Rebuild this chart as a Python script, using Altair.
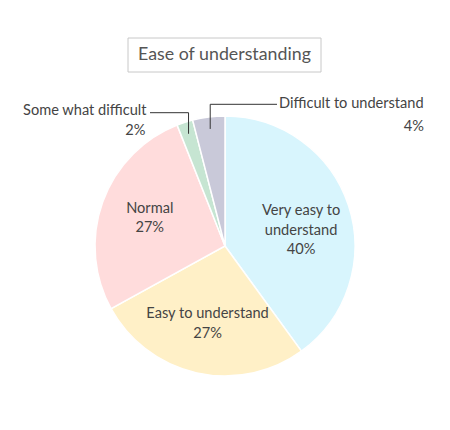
import altair as alt
import numpy as np
import pandas as pd

# ---- data ----
categories = ["Very easy to understand", "Easy to understand", "Normal",
              "Some what difficult", "Difficult to understand"]
names = ["Very easy to\nunderstand", "Easy to understand", "Normal",
         "Some what difficult", "Difficult to understand"]
values = [40, 27, 27, 2, 4]
colors = ["#d8f5fd", "#fff0c7", "#ffdcdc", "#c6e5d2", "#c9c9d9"]
inside = [True, True, True, False, False]
title_text = "Ease of understanding"

# ---- layout constants ----
W, H = 434, 414
CX, CY, R = 217, 238, 130
FONT = "Lato"
FS = 14.6
TXT = "#444444"

df = pd.DataFrame({"cat": categories, "name": names, "value": values,
                   "order": list(range(len(values)))})
df["pct"] = df["value"].astype(str) + "%"
df["inner"] = [f"{n}\n{p}" if i else "" for n, p, i in zip(df["name"], df["pct"], inside)]

base = alt.Chart(df)
pie = base.mark_arc(outerRadius=R, stroke="white", strokeWidth=1.5).encode(
    theta=alt.Theta("value:Q", stack=True),
    order=alt.Order("order:Q"),
    color=alt.Color("cat:N", scale=alt.Scale(domain=categories, range=colors), legend=None),
    x=alt.value(CX), y=alt.value(CY),
)
inner = base.mark_text(radius=80, dy=-10, lineBreak="\n", lineHeight=19.5, fontSize=FS, font=FONT,
                       color=TXT, align="center", baseline="middle").encode(
    theta=alt.Theta("value:Q", stack=True),
    order=alt.Order("order:Q"),
    text="inner:N",
    x=alt.value(CX), y=alt.value(CY),
)

# ---- leader lines for the small slices (from slice mid-angles) ----
total = sum(values)
cum = np.cumsum([0] + values)
mid = (cum[:-1] + cum[1:]) / 2 / total * 2 * np.pi
R_IN = 118
leader_cfg = {3: (104.7, 142), 4: (96.3, 269)}  # elbow y, end x
rows = []
for idx, (ey, ex) in leader_cfg.items():
    sx = CX + R_IN * np.sin(mid[idx])
    sy = CY - R_IN * np.cos(mid[idx])
    for s, (px, py) in enumerate([(sx, sy), (sx, ey), (ex, ey)]):
        rows.append({"cat": categories[idx], "seq": s, "px": px, "py": py})
lines_df = pd.DataFrame(rows)

xs = alt.Scale(domain=[0, W], range=[0, W])
ys = alt.Scale(domain=[0, H], range=[0, H])

leaders = alt.Chart(lines_df).mark_line(color="#333333", strokeWidth=1).encode(
    x=alt.X("px:Q", scale=xs, axis=None),
    y=alt.Y("py:Q", scale=ys, axis=None),
    detail="cat:N",
    order="seq:Q",
)

out_df = pd.DataFrame({
    "txt": [names[3], df["pct"][3], names[4], df["pct"][4]],
    "px": [leader_cfg[3][1] - 3.5, 137.5, leader_cfg[4][1] + 2, 416],
    "py": [103.2, 123, 96.3, 118.5],
    "al": ["right", "right", "left", "right"],
})
out_right = alt.Chart(out_df).transform_filter("datum.al == 'right'").mark_text(
    align="right", baseline="middle", fontSize=FS, font=FONT, color=TXT).encode(
    x=alt.X("px:Q", scale=xs, axis=None), y=alt.Y("py:Q", scale=ys, axis=None), text="txt:N")
out_left = alt.Chart(out_df).transform_filter("datum.al == 'left'").mark_text(
    align="left", baseline="middle", fontSize=FS, font=FONT, color=TXT).encode(
    x=alt.X("px:Q", scale=xs, axis=None), y=alt.Y("py:Q", scale=ys, axis=None), text="txt:N")

tdf = pd.DataFrame({"t": [title_text]})
tbox = alt.Chart(tdf).mark_rect(fill="white", stroke="#c8c8c8", strokeWidth=1).encode(
    x=alt.value(120), x2=alt.value(313), y=alt.value(30), y2=alt.value(64))
ttxt = alt.Chart(tdf).mark_text(fontSize=17.8, font=FONT, color="#555555",
                                align="center", baseline="middle").encode(
    x=alt.value(216.5), y=alt.value(47), text="t:N")

chart = alt.layer(pie, inner, leaders, out_right, out_left, tbox, ttxt).properties(
    width=W, height=H, padding=0,
    autosize=alt.AutoSizeParams(type="none"),
    background="white",
).configure_view(stroke=None)

chart.save("out.html", embed_options={"renderer": "svg", "actions": False})
